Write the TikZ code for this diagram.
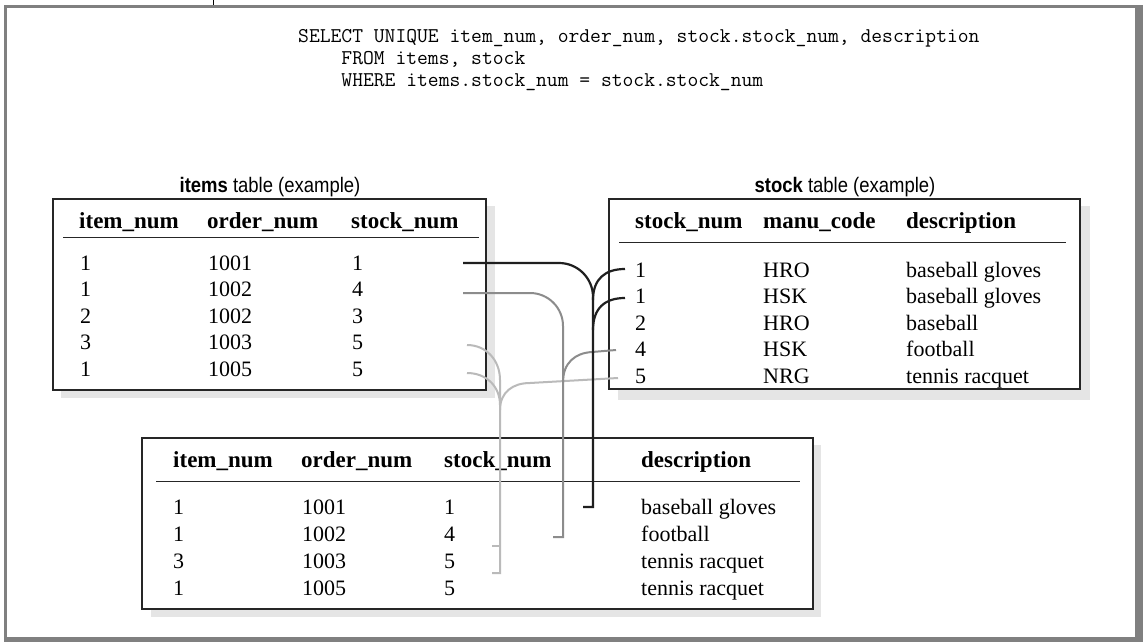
\documentclass[tikz,border=0pt]{standalone}
\usepackage{fontspec}
\newfontfamily\titlefont[FakeStretch=0.88]{Liberation Sans}
\newfontfamily\tablefont{Liberation Serif}

\begin{document}
\begin{tikzpicture}[x=1pt,y=-1pt]

\tikzstyle{shadow}=[fill=black!10, draw=none]
\tikzstyle{table}=[fill=white, draw=black!85, line width=1.1pt]
\tikzstyle{rule}=[draw=black!85, line width=1pt]
\tikzstyle{head}=[anchor=base west, inner sep=0pt, font=\fontsize{23}{26}\selectfont\tablefont\bfseries]
\tikzstyle{cell}=[anchor=base west, inner sep=0pt, font=\fontsize{22}{26}\selectfont\tablefont]
\tikzstyle{title}=[anchor=base, inner sep=0pt, font=\fontsize{21}{24}\selectfont\titlefont]
\tikzstyle{code}=[anchor=base west, inner sep=0pt, font=\fontsize{21}{22}\selectfont\ttfamily]

\tikzstyle{dark}=[draw=black!88, line width=2.2pt]
\tikzstyle{mid}=[draw=black!45, line width=2pt]
\tikzstyle{light}=[draw=black!27, line width=2pt]

\useasboundingbox (0,0) rectangle (1143,642);

% frame
\fill[black!50] (4,5) rectangle (1143,642);
\fill[white] (7,8) rectangle (1135,637);
\draw[black, line width=0.8pt] (213,0) -- (213,5);

% query
\node[code] (select) at (298,43) {SELECT UNIQUE item\_num, order\_num, stock.stock\_num, description};
\node[code] (from) at (298,65) {\hphantom{SELE}FROM items, stock};
\node[code] (where) at (298,86) {\hphantom{SELE}WHERE items.stock\_num = stock.stock\_num};

% items table
\fill[shadow] (61,206) rectangle (495,398);
\draw[table] (53,199) rectangle (486,390);
\draw[rule] (63,237) -- (479,237);
\node[title] (itemstitle) at (270,192) {{\bfseries items} table (example)};
\node[head] (ih1) at (79,228) {item\_num};
\node[head] (ih2) at (207,228) {order\_num};
\node[head] (ih3) at (351,228) {stock\_num};
\foreach \a/\b/\c [count=\r] in {1/1001/1, 1/1002/4, 2/1002/3, 3/1003/5, 1/1005/5} {
  \node[cell] (ia\r) at (80,{270+26.5*(\r-1)}) {\a};
  \node[cell] (ib\r) at (208,{270+26.5*(\r-1)}) {\b};
  \node[cell] (ic\r) at (352,{270+26.5*(\r-1)}) {\c};
}

% stock table
\fill[shadow] (618,206) rectangle (1090,400);
\draw[table] (609,199) rectangle (1080,389);
\draw[rule] (619,242) -- (1066,242);
\node[title] (stocktitle) at (845,192) {{\bfseries stock} table (example)};
\node[head] (sh1) at (635,228) {stock\_num};
\node[head] (sh2) at (763,228) {manu\_code};
\node[head] (sh3) at (906,228) {description};
\foreach \a/\b/\c [count=\r] in {1/HRO/baseball gloves, 1/HSK/baseball gloves, 2/HRO/baseball, 4/HSK/football, 5/NRG/tennis racquet} {
  \node[cell] (sa\r) at (635,{277+26.5*(\r-1)}) {\a};
  \node[cell] (sb\r) at (763,{277+26.5*(\r-1)}) {\b};
  \node[cell] (sc\r) at (906,{277+26.5*(\r-1)}) {\c};
}

% result table
\fill[shadow] (151,445) rectangle (821,617);
\draw[table] (142,438) rectangle (813,609);
\draw[rule] (156,481) -- (800,481);
\node[head] (rh1) at (173,467) {item\_num};
\node[head] (rh2) at (301,467) {order\_num};
\node[head] (rh3) at (444,467) {stock\_num};
\node[head] (rh4) at (641,467) {description};
\foreach \a/\b/\c/\d [count=\r] in {1/1001/1/baseball gloves, 1/1002/4/football, 3/1003/5/tennis racquet, 1/1005/5/tennis racquet} {
  \node[cell] (ra\r) at (173,{514+27*(\r-1)}) {\a};
  \node[cell] (rb\r) at (302,{514+27*(\r-1)}) {\b};
  \node[cell] (rc\r) at (444,{514+27*(\r-1)}) {\c};
  \node[cell] (rd\r) at (641,{514+27*(\r-1)}) {\d};
}

% join lines
\coordinate (la) at (467,345);
\coordinate (lb) at (467,373);
\coordinate (lc) at (618,378);
\coordinate (ld) at (492,546);
\coordinate (le) at (492,573);
\coordinate (ma) at (463,293);
\coordinate (mb) at (616,350);
\coordinate (md) at (553,537);
\coordinate (ka) at (463,263);
\coordinate (kb) at (625,269);
\coordinate (kc) at (625,298);
\coordinate (kd) at (583,507);

\draw[light] (la) .. controls (486,345) and (500,360) .. (500,380) -- (500,573) -- (le);
\draw[light] (ld) -- (500,546);
\draw[light] (lb) .. controls (486,373) and (500,386) .. (500,405);
\draw[light] (lc) -- (530,383) .. controls (513,383) and (500,392) .. (500,410);

\draw[mid, rounded corners=33pt] (ma) -| (563,440) [sharp corners] |- (md);
\draw[mid] (mb) -- (592,352) .. controls (575,353) and (563,363) .. (563,382);

\draw[dark, rounded corners=34pt] (ka) -| (593,420) [sharp corners] |- (kd);
\draw[dark] (kb) .. controls (605,269) and (593,279) .. (593,300);
\draw[dark] (kc) .. controls (605,298) and (593,308) .. (593,330);

\end{tikzpicture}
\end{document}
